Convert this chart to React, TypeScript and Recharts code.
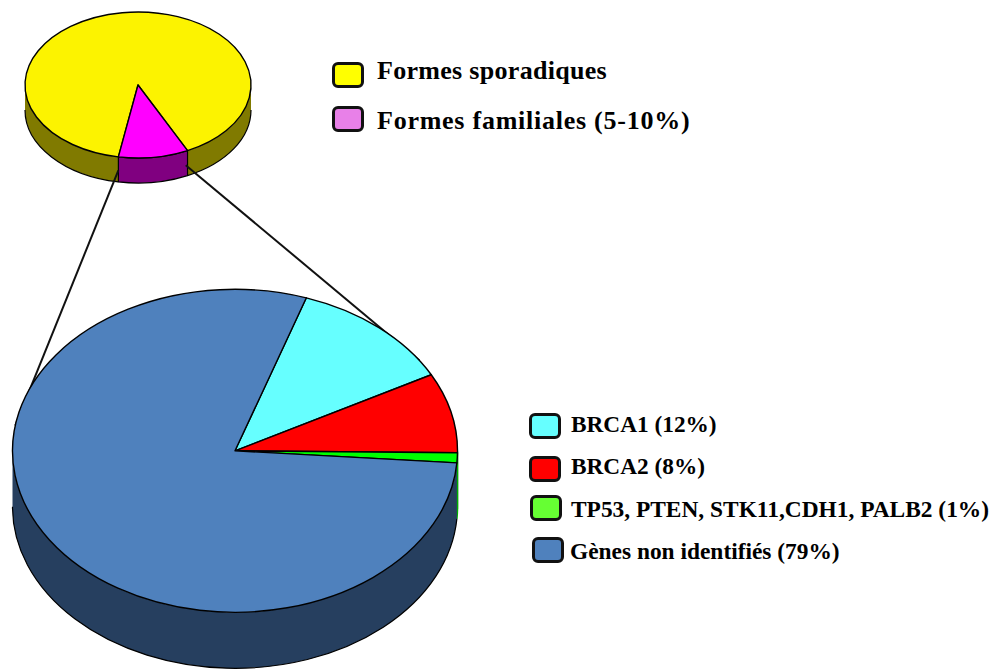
import React from 'react';
import { PieChart, Pie } from 'recharts';

const overviewNames = ['Formes sporadiques', 'Formes familiales (5-10%)'];
const overviewValues = [90, 10];
const overviewColors = ['#fcf300', '#ff00ff'];
const overviewWallColors = ['#807a00', '#800080'];

const geneNames = ['BRCA1 (12%)', 'BRCA2 (8%)', 'TP53, PTEN, STK11,CDH1, PALB2 (1%)', 'Gènes non identifiés (79%)'];
const geneValues = [12, 8, 1, 79];
const geneColors = ['#66ffff', '#ff0000', '#00ff00', '#4f81bd'];
const geneWallColors = ['#00a0a0', '#a00000', '#00b000', '#263f5f'];

const overviewLegendColors = ['#ffff00', '#e880e8'];
const geneLegendColors = ['#66ffff', '#ff0000', '#66ff33', '#4f81bd'];

const toRows = (names: string[], values: number[], colors: string[]) =>
    names.map((name, i) => ({ name, value: values[i], fill: colors[i] }));

const TOP = { cx: 138, cy: 85, rx: 113, ry: 73, depth: 25, start: -100 };
const BOTTOM = { cx: 235, cy: 450.8, rx: 222.5, ry: 161.5, depth: 56, start: 71.3 };

const rim = (p: typeof TOP, angle: number, drop = 0) => {
    const rad = (angle * Math.PI) / 180;
    return { x: p.cx + p.rx * Math.cos(rad), y: p.cy - p.ry * Math.sin(rad) + drop };
};

// Top face of a slice, flattened into an ellipse
const faceShape = (p: typeof TOP) => (props: any) => {
    const { startAngle, endAngle, fill } = props;
    const a = rim(p, startAngle);
    const b = rim(p, endAngle);
    const large = Math.abs(startAngle - endAngle) > 180 ? 1 : 0;
    const d = `M${p.cx},${p.cy} L${a.x},${a.y} A${p.rx},${p.ry} 0 ${large} 1 ${b.x},${b.y} Z`;
    return <path d={d} fill={fill} stroke="#000" strokeWidth={1.4} strokeLinejoin="round" />;
};

// Side wall: only the part of the slice on the front half shows.
// Big slices get no side edges, very thin ones get no black at all.
const wallShape = (p: typeof TOP) => (props: any) => {
    const { startAngle, endAngle, fill } = props;
    const sweep = Math.abs(startAngle - endAngle);
    const parts: React.ReactNode[] = [];
    for (let k = -2; k <= 1; k++) {
        const hi = Math.min(startAngle, 360 * k);
        const lo = Math.max(endAngle, 360 * k - 180);
        if (hi <= lo) continue;
        const a = rim(p, hi);
        const b = rim(p, lo);
        const a2 = rim(p, hi, p.depth);
        const b2 = rim(p, lo, p.depth);
        const arc = `A${p.rx},${p.ry} 0 0 1 ${b.x},${b.y}`;
        const arcBack = `A${p.rx},${p.ry} 0 0 0 ${a2.x},${a2.y}`;
        const d = `M${a.x},${a.y} ${arc} L${b2.x},${b2.y} ${arcBack} Z`;
        if (sweep < 10) {
            parts.push(<path key={k} d={d} fill={fill} stroke={fill} strokeWidth={1.6} />);
        } else if (sweep > 180) {
            parts.push(<path key={k} d={d} fill={fill} stroke="none" />);
            parts.push(<path key={`${k}b`} d={`M${b2.x},${b2.y} ${arcBack}`} fill="none" stroke="#000" strokeWidth={1.2} />);
        } else {
            parts.push(<path key={k} d={d} fill={fill} stroke="#000" strokeWidth={1.2} strokeLinejoin="round" />);
        }
    }
    return <g>{parts}</g>;
};

const Swatch = ({ left, top, width, height, color }: any) => (
    <div style={{ position: 'absolute', left, top, width, height, boxSizing: 'border-box', background: color, border: '3px solid #111', borderRadius: 6 }} />
);

const Label = ({ left, top, size, spacing, children }: any) => (
    <div style={{ position: 'absolute', left, top, fontFamily: '"Liberation Serif", serif', fontWeight: 700, fontSize: size, letterSpacing: spacing, lineHeight: '26px', color: '#000', whiteSpace: 'nowrap' }}>
        {children}
    </div>
);

const layer: React.CSSProperties = { position: 'absolute', left: 0, top: 0 };

const App: React.FC = () => {
    const leftFrom = rim(TOP, -100, 13.5);
    const rightFrom = rim(TOP, -65, 14);
    const leftTo = rim(BOTTOM, 171);
    const rightTo = rim(BOTTOM, 34);

    return (
        <div style={{ position: 'absolute', left: 0, top: 0, width: 992, height: 669, overflow: 'hidden', background: '#fff' }}>
            <div style={layer}>
                <PieChart width={992} height={669} margin={{ top: 0, right: 0, bottom: 0, left: 0 }}>
                    <Pie data={toRows(overviewNames, overviewValues, overviewWallColors)} dataKey="value" cx={TOP.cx} cy={TOP.cy} outerRadius={TOP.rx} startAngle={TOP.start} endAngle={TOP.start - 360} shape={wallShape(TOP)} isAnimationActive={false} />
                    <Pie data={toRows(overviewNames, overviewValues, overviewColors)} dataKey="value" cx={TOP.cx} cy={TOP.cy} outerRadius={TOP.rx} startAngle={TOP.start} endAngle={TOP.start - 360} shape={faceShape(TOP)} isAnimationActive={false} />
                </PieChart>
            </div>
            {/* second chart sits above the first so the connectors cross the small pie's wall */}
            <div style={layer}>
                <PieChart width={992} height={669} margin={{ top: 0, right: 0, bottom: 0, left: 0 }}>
                    <line x1={leftFrom.x} y1={leftFrom.y} x2={leftTo.x} y2={leftTo.y} stroke="#111" strokeWidth={2} />
                    <line x1={rightFrom.x} y1={rightFrom.y} x2={rightTo.x} y2={rightTo.y} stroke="#111" strokeWidth={2} />
                    <Pie data={toRows(geneNames, geneValues, geneWallColors)} dataKey="value" cx={BOTTOM.cx} cy={BOTTOM.cy} outerRadius={BOTTOM.rx} startAngle={BOTTOM.start} endAngle={BOTTOM.start - 360} shape={wallShape(BOTTOM)} isAnimationActive={false} />
                    <Pie data={toRows(geneNames, geneValues, geneColors)} dataKey="value" cx={BOTTOM.cx} cy={BOTTOM.cy} outerRadius={BOTTOM.rx} startAngle={BOTTOM.start} endAngle={BOTTOM.start - 360} shape={faceShape(BOTTOM)} isAnimationActive={false} />
                </PieChart>
            </div>

            <Swatch left={331.5} top={62} width={32} height={26} color={overviewLegendColors[0]} />
            <Swatch left={331.5} top={106} width={32} height={26} color={overviewLegendColors[1]} />
            <Label left={377} top={58} size={26} spacing={0.3}>{overviewNames[0]}</Label>
            <Label left={377} top={108} size={26} spacing={0.75}>{overviewNames[1]}</Label>

            <Swatch left={529} top={413} width={32} height={26} color={geneLegendColors[0]} />
            <Swatch left={529} top={456} width={32} height={26} color={geneLegendColors[1]} />
            <Swatch left={530} top={495} width={32} height={26} color={geneLegendColors[2]} />
            <Swatch left={532} top={537} width={32} height={26} color={geneLegendColors[3]} />
            <Label left={571} top={411} size={23.3}>{geneNames[0]}</Label>
            <Label left={571} top={453} size={23.3}>{geneNames[1]}</Label>
            <Label left={571} top={496} size={23.4}>{geneNames[2]}</Label>
            <Label left={570} top={538} size={23.4}>{geneNames[3]}</Label>
        </div>
    );
};

export default App;
